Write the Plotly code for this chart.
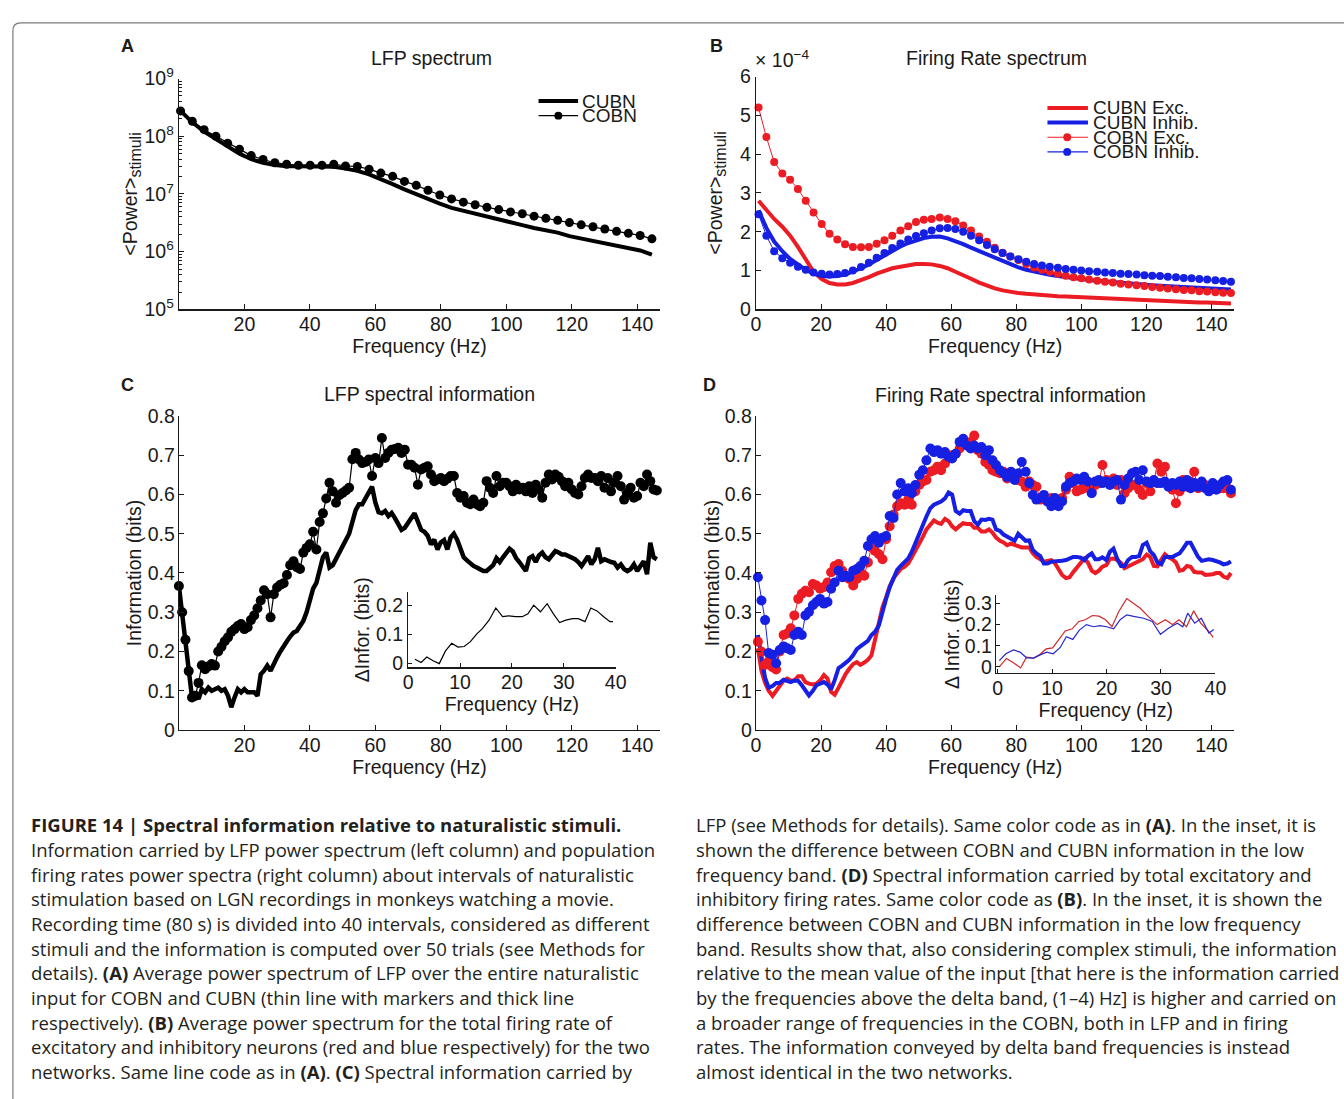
import plotly.graph_objects as go

W, H = 1344, 1099
FONT = "Liberation Sans, Arial, Helvetica, sans-serif"
CAP_FONT = "Open Sans, DejaVu Sans, sans-serif"
RED = "rgb(236,28,36)"
BLUE = "rgb(22,32,226)"
INK = "#1a1a1a"

# ------------------------------------------------------------------ data
# Panel A : LFP power spectrum (log scale)
FREQ_A = [0.5, 4.1, 7.7, 11.3, 14.9, 18.5, 22.1, 25.7, 29.3, 32.9,
          36.5, 40.1, 43.7, 47.3, 50.9, 54.5, 58.1, 61.7, 65.3, 68.9,
          72.5, 76.1, 79.7, 83.3, 86.9, 90.5, 94.1, 97.7, 101.3, 104.9,
          108.5, 112.1, 115.7, 119.3, 122.9, 126.5, 130.1, 133.7, 137.3, 140.9,
          144.5]
LFP_COBN = [2.75e8, 1.82e8, 1.30e8, 1.00e8, 7.55e7, 5.98e7, 4.62e7, 3.96e7, 3.48e7, 3.27e7,
            3.14e7, 3.14e7, 3.14e7, 3.27e7, 3.06e7, 2.99e7, 2.69e7, 2.30e7, 2.02e7, 1.65e7,
            1.41e7, 1.16e7, 9.57e6, 8.20e6, 7.21e6, 6.50e6, 5.86e6, 5.36e6, 4.89e6, 4.53e6,
            4.13e6, 3.78e6, 3.49e6, 3.19e6, 2.92e6, 2.70e6, 2.47e6, 2.25e6, 2.08e6, 1.91e6,
            1.67e6]
LFP_CUBN = [2.75e8, 1.74e8, 1.20e8, 8.9e7, 6.6e7, 5.0e7, 4.0e7, 3.47e7, 3.16e7, 3.02e7,
            3.02e7, 3.02e7, 3.02e7, 2.95e7, 2.75e7, 2.51e7, 2.19e7, 1.82e7, 1.48e7, 1.20e7,
            9.8e6, 8.1e6, 6.8e6, 5.75e6, 5.1e6, 4.47e6, 3.98e6, 3.55e6, 3.16e6, 2.88e6,
            2.57e6, 2.34e6, 2.14e6, 1.86e6, 1.70e6, 1.55e6, 1.41e6, 1.29e6, 1.17e6, 1.05e6,
            8.9e5]

# Panel B : firing-rate power spectrum (values in units of 1e-4)
FREQ_B = [0.8, 3.2, 5.6, 8.1, 10.5, 12.9, 15.3, 17.7, 20.2, 22.6,
          25.0, 27.4, 29.8, 32.3, 34.7, 37.1, 39.5, 41.9, 44.4, 46.8,
          49.2, 51.6, 54.0, 56.5, 58.9, 61.3, 63.7, 66.1, 68.6, 71.0,
          73.4, 75.8, 78.2, 80.7, 83.1, 85.5, 87.9, 90.3, 92.8, 95.2,
          97.6, 100.0, 102.4, 104.9, 107.3, 109.7, 112.1, 114.5, 117.0, 119.4,
          121.8, 124.2, 126.6, 129.1, 131.5, 133.9, 136.3, 138.7, 141.2, 143.6,
          146.0]
FR_CUBN_EXC = [2.80, 2.55, 2.33, 2.13, 1.90, 1.61, 1.27, 0.97, 0.78, 0.68,
               0.64, 0.64, 0.68, 0.75, 0.83, 0.92, 0.99, 1.06, 1.10, 1.14,
               1.17, 1.17, 1.16, 1.12, 1.06, 0.97, 0.89, 0.79, 0.69, 0.61,
               0.54, 0.49, 0.45, 0.42, 0.40, 0.38, 0.36, 0.35, 0.34, 0.33,
               0.32, 0.31, 0.30, 0.29, 0.28, 0.27, 0.26, 0.25, 0.245, 0.24,
               0.23, 0.22, 0.21, 0.20, 0.195, 0.19, 0.18, 0.175, 0.17, 0.16,
               0.15]
FR_CUBN_INH = [2.55, 2.10, 1.75, 1.50, 1.30, 1.15, 1.02, 0.92, 0.86, 0.85,
               0.86, 0.90, 0.97, 1.06, 1.16, 1.28, 1.40, 1.52, 1.62, 1.71,
               1.78, 1.84, 1.87, 1.88, 1.83, 1.76, 1.68, 1.59, 1.50, 1.41,
               1.32, 1.23, 1.15, 1.08, 1.02, 0.97, 0.93, 0.89, 0.86, 0.83,
               0.80, 0.78, 0.76, 0.74, 0.72, 0.70, 0.68, 0.67, 0.65, 0.64,
               0.62, 0.61, 0.60, 0.58, 0.57, 0.56, 0.55, 0.54, 0.53, 0.52,
               0.51]
FR_COBN_EXC = [5.20, 4.44, 3.80, 3.50, 3.34, 3.10, 2.80, 2.50, 2.20, 1.95,
               1.80, 1.68, 1.61, 1.60, 1.61, 1.69, 1.78, 1.90, 2.03, 2.14,
               2.25, 2.31, 2.33, 2.37, 2.33, 2.27, 2.16, 2.03, 1.88, 1.74,
               1.59, 1.46, 1.36, 1.27, 1.17, 1.08, 1.02, 0.97, 0.92, 0.87,
               0.83, 0.80, 0.77, 0.74, 0.71, 0.69, 0.66, 0.64, 0.62, 0.60,
               0.58, 0.56, 0.54, 0.52, 0.50, 0.49, 0.47, 0.46, 0.44, 0.43,
               0.42]
FR_COBN_INH = [2.45, 1.90, 1.50, 1.32, 1.20, 1.10, 1.02, 0.95, 0.92, 0.90,
               0.91, 0.94, 1.00, 1.09, 1.20, 1.33, 1.45, 1.58, 1.70, 1.80,
               1.89, 1.96, 2.03, 2.09, 2.10, 2.07, 2.00, 1.90, 1.78, 1.66,
               1.55, 1.45, 1.36, 1.29, 1.23, 1.17, 1.13, 1.10, 1.07, 1.04,
               1.02, 1.00, 0.98, 0.97, 0.95, 0.94, 0.92, 0.91, 0.90, 0.88,
               0.87, 0.86, 0.84, 0.83, 0.81, 0.80, 0.78, 0.77, 0.75, 0.73,
               0.71]

# Panel C : LFP spectral information (bits), 1 Hz bins 0..146
FREQ_C = list(range(0, 147))
INFO_C_COBN = [0.367, 0.300, 0.230, 0.150, 0.083, 0.087, 0.120, 0.165, 0.155, 0.162,
               0.168, 0.164, 0.200, 0.212, 0.226, 0.236, 0.250, 0.257, 0.265, 0.270,
               0.257, 0.262, 0.280, 0.292, 0.310, 0.330, 0.356, 0.346, 0.287, 0.346,
               0.363, 0.370, 0.374, 0.395, 0.420, 0.430, 0.415, 0.410, 0.452, 0.464,
               0.473, 0.505, 0.460, 0.530, 0.552, 0.590, 0.630, 0.608, 0.579, 0.598,
               0.604, 0.610, 0.617, 0.690, 0.706, 0.689, 0.680, 0.683, 0.689, 0.647,
               0.693, 0.680, 0.744, 0.693, 0.706, 0.714, 0.716, 0.719, 0.706, 0.714,
               0.676, 0.676, 0.668, 0.625, 0.664, 0.668, 0.672, 0.651, 0.634, 0.638,
               0.642, 0.634, 0.640, 0.647, 0.647, 0.604, 0.592, 0.596, 0.579, 0.575,
               0.587, 0.575, 0.570, 0.579, 0.634, 0.617, 0.604, 0.647, 0.621, 0.630,
               0.630, 0.621, 0.608, 0.625, 0.613, 0.617, 0.608, 0.621, 0.604, 0.625,
               0.612, 0.592, 0.630, 0.651, 0.638, 0.651, 0.645, 0.634, 0.621, 0.630,
               0.613, 0.604, 0.600, 0.621, 0.642, 0.651, 0.642, 0.642, 0.634, 0.647,
               0.617, 0.642, 0.608, 0.630, 0.647, 0.621, 0.587, 0.604, 0.617, 0.592,
               0.596, 0.630, 0.621, 0.651, 0.634, 0.613, 0.610]
INFO_C_CUBN = [0.367, 0.300, 0.230, 0.150, 0.083, 0.096, 0.079, 0.104, 0.096, 0.108,
               0.100, 0.104, 0.108, 0.100, 0.104, 0.087, 0.058, 0.083, 0.104, 0.096,
               0.104, 0.096, 0.096, 0.096, 0.087, 0.142, 0.151, 0.164, 0.151, 0.170,
               0.185, 0.200, 0.215, 0.226, 0.238, 0.248, 0.252, 0.265, 0.278, 0.300,
               0.330, 0.360, 0.375, 0.410, 0.440, 0.452, 0.414, 0.420, 0.435, 0.450,
               0.470, 0.480, 0.500, 0.530, 0.560, 0.575, 0.575, 0.590, 0.605, 0.620,
               0.580, 0.555, 0.552, 0.558, 0.545, 0.553, 0.540, 0.525, 0.510, 0.515,
               0.530, 0.540, 0.552, 0.530, 0.510, 0.505, 0.495, 0.473, 0.485, 0.460,
               0.478, 0.484, 0.460, 0.490, 0.500, 0.485, 0.465, 0.440, 0.432, 0.424,
               0.418, 0.414, 0.408, 0.405, 0.405, 0.412, 0.420, 0.438, 0.428, 0.440,
               0.450, 0.462, 0.455, 0.438, 0.428, 0.415, 0.405, 0.438, 0.443, 0.428,
               0.445, 0.452, 0.440, 0.435, 0.447, 0.456, 0.452, 0.447, 0.447, 0.444,
               0.440, 0.435, 0.428, 0.418, 0.430, 0.443, 0.422, 0.435, 0.464, 0.430,
               0.435, 0.430, 0.428, 0.426, 0.414, 0.422, 0.410, 0.405, 0.410, 0.422,
               0.405, 0.418, 0.430, 0.397, 0.477, 0.440, 0.435]

# Inset of C : COBN - CUBN information, low frequencies
FREQ_IC = [1.3, 2.5, 3.6, 4.8, 6.0, 7.2, 8.4, 9.6, 10.8, 12.0,
           13.2, 14.3, 15.6, 16.9, 18.2, 19.4, 20.7, 22.0, 23.1, 24.2,
           25.5, 26.8, 28.0, 29.2, 30.4, 31.7, 32.8, 34.1, 35.2, 36.4,
           37.7, 38.9, 39.5]
DIFF_C = [0.013, 0.002, 0.021, 0.008, -0.002, 0.042, 0.068, 0.055, 0.057, 0.074,
          0.100, 0.119, 0.148, 0.190, 0.160, 0.163, 0.160, 0.160, 0.170, 0.200,
          0.177, 0.205, 0.170, 0.140, 0.148, 0.153, 0.153, 0.143, 0.190, 0.180,
          0.160, 0.143, 0.143]

# Panel D : firing-rate spectral information (bits)
FREQ_D = [0.6, 1.7, 2.8, 3.9, 5.1, 6.2, 7.3, 8.5, 9.6, 10.7,
          11.8, 13.0, 14.1, 15.2, 16.3, 17.5, 18.6, 19.7, 20.9, 22.0,
          23.1, 24.2, 25.4, 26.5, 27.6, 28.7, 29.9, 31.0, 32.1, 33.3,
          34.4, 35.5, 36.6, 37.8, 38.9, 40.0, 41.1, 42.3, 43.4, 44.5,
          45.7, 46.8, 47.9, 49.0, 50.2, 51.3, 52.4, 53.6, 54.7, 55.8,
          56.9, 58.1, 59.2, 60.3, 61.4, 62.6, 63.7, 64.8, 66.0, 67.1,
          68.2, 69.3, 70.5, 71.6, 72.7, 73.8, 75.0, 76.1, 77.2, 78.4,
          79.5, 80.6, 81.7, 82.9, 84.0, 85.1, 86.2, 87.4, 88.5, 89.6,
          90.8, 91.9, 93.0, 94.1, 95.3, 96.4, 97.5, 98.6, 99.8, 100.9,
          102.0, 103.2, 104.3, 105.4, 106.5, 107.7, 108.8, 109.9, 111.0, 112.2,
          113.3, 114.4, 115.6, 116.7, 117.8, 118.9, 120.1, 121.2, 122.3, 123.4,
          124.6, 125.7, 126.8, 128.0, 129.1, 130.2, 131.3, 132.5, 133.6, 134.7,
          135.9, 137.0, 138.1, 139.2, 140.4, 141.5, 142.6, 143.7, 144.9, 146.0]
INFO_D_CUBN_EXC = [0.208, 0.150, 0.120, 0.100, 0.087, 0.100, 0.116, 0.126, 0.131, 0.126,
                   0.126, 0.137, 0.137, 0.122, 0.118, 0.116, 0.118, 0.126, 0.140, 0.131,
                   0.097, 0.090, 0.108, 0.126, 0.143, 0.156, 0.168, 0.173, 0.166, 0.172,
                   0.179, 0.190, 0.227, 0.276, 0.313, 0.338, 0.366, 0.387, 0.400, 0.410,
                   0.416, 0.424, 0.440, 0.456, 0.473, 0.492, 0.511, 0.525, 0.534, 0.528,
                   0.525, 0.538, 0.532, 0.519, 0.511, 0.520, 0.527, 0.525, 0.525, 0.515,
                   0.515, 0.506, 0.506, 0.511, 0.503, 0.490, 0.482, 0.478, 0.471, 0.475,
                   0.471, 0.469, 0.465, 0.465, 0.465, 0.450, 0.441, 0.435, 0.429, 0.431,
                   0.433, 0.425, 0.410, 0.395, 0.387, 0.389, 0.402, 0.414, 0.425, 0.437,
                   0.427, 0.406, 0.400, 0.406, 0.416, 0.420, 0.436, 0.437, 0.433, 0.426,
                   0.412, 0.416, 0.423, 0.425, 0.429, 0.435, 0.447, 0.441, 0.418, 0.417,
                   0.434, 0.448, 0.440, 0.435, 0.427, 0.406, 0.408, 0.418, 0.416, 0.403,
                   0.401, 0.401, 0.395, 0.395, 0.397, 0.400, 0.400, 0.391, 0.387, 0.400]
INFO_D_CUBN_INH = [0.242, 0.192, 0.133, 0.108, 0.112, 0.120, 0.120, 0.128, 0.126, 0.122,
                   0.126, 0.125, 0.114, 0.102, 0.088, 0.100, 0.114, 0.118, 0.122, 0.116,
                   0.104, 0.127, 0.158, 0.164, 0.170, 0.179, 0.191, 0.206, 0.213, 0.221,
                   0.227, 0.242, 0.250, 0.267, 0.305, 0.334, 0.363, 0.389, 0.408, 0.418,
                   0.427, 0.437, 0.454, 0.477, 0.500, 0.521, 0.544, 0.565, 0.574, 0.578,
                   0.582, 0.590, 0.605, 0.600, 0.558, 0.551, 0.560, 0.558, 0.558, 0.532,
                   0.523, 0.536, 0.535, 0.538, 0.536, 0.511, 0.507, 0.498, 0.492, 0.485,
                   0.482, 0.500, 0.490, 0.482, 0.483, 0.459, 0.450, 0.443, 0.424, 0.424,
                   0.429, 0.429, 0.429, 0.431, 0.433, 0.437, 0.441, 0.441, 0.439, 0.433,
                   0.443, 0.450, 0.435, 0.435, 0.440, 0.433, 0.454, 0.462, 0.437, 0.418,
                   0.418, 0.433, 0.441, 0.441, 0.443, 0.471, 0.477, 0.455, 0.446, 0.427,
                   0.422, 0.441, 0.441, 0.441, 0.446, 0.450, 0.462, 0.477, 0.477, 0.458,
                   0.441, 0.431, 0.433, 0.435, 0.433, 0.431, 0.427, 0.422, 0.424, 0.429]
INFO_D_COBN_EXC = [0.225, 0.200, 0.166, 0.175, 0.160, 0.154, 0.200, 0.242, 0.246, 0.259,
                   0.292, 0.334, 0.347, 0.355, 0.351, 0.372, 0.368, 0.360, 0.364, 0.376,
                   0.402, 0.418, 0.423, 0.406, 0.389, 0.385, 0.368, 0.385, 0.402, 0.393,
                   0.427, 0.465, 0.456, 0.448, 0.435, 0.486, 0.519, 0.549, 0.570, 0.578,
                   0.574, 0.587, 0.574, 0.608, 0.624, 0.633, 0.637, 0.658, 0.662, 0.671,
                   0.662, 0.679, 0.692, 0.700, 0.704, 0.717, 0.734, 0.729, 0.734, 0.750,
                   0.713, 0.704, 0.683, 0.675, 0.662, 0.658, 0.654, 0.658, 0.641, 0.645,
                   0.641, 0.637, 0.633, 0.620, 0.633, 0.624, 0.620, 0.587, 0.591, 0.582,
                   0.591, 0.582, 0.582, 0.591, 0.612, 0.645, 0.629, 0.608, 0.612, 0.616,
                   0.624, 0.608, 0.624, 0.629, 0.675, 0.637, 0.629, 0.641, 0.624, 0.637,
                   0.603, 0.616, 0.624, 0.624, 0.612, 0.599, 0.629, 0.608, 0.633, 0.679,
                   0.658, 0.671, 0.624, 0.612, 0.578, 0.608, 0.637, 0.620, 0.633, 0.658,
                   0.616, 0.629, 0.624, 0.620, 0.624, 0.620, 0.616, 0.616, 0.616, 0.603]
INFO_D_COBN_INH = [0.389, 0.330, 0.280, 0.196, 0.192, 0.170, 0.204, 0.213, 0.208, 0.204,
                   0.242, 0.250, 0.242, 0.292, 0.301, 0.318, 0.326, 0.334, 0.322, 0.326,
                   0.360, 0.376, 0.406, 0.389, 0.393, 0.389, 0.406, 0.410, 0.418, 0.431,
                   0.469, 0.486, 0.494, 0.477, 0.490, 0.494, 0.545, 0.540, 0.600, 0.629,
                   0.608, 0.616, 0.603, 0.624, 0.650, 0.662, 0.687, 0.717, 0.708, 0.713,
                   0.704, 0.708, 0.696, 0.692, 0.704, 0.734, 0.742, 0.725, 0.717, 0.725,
                   0.717, 0.721, 0.700, 0.713, 0.687, 0.675, 0.662, 0.654, 0.645, 0.658,
                   0.637, 0.654, 0.683, 0.658, 0.629, 0.599, 0.587, 0.591, 0.599, 0.582,
                   0.570, 0.591, 0.570, 0.582, 0.620, 0.629, 0.633, 0.641, 0.637, 0.645,
                   0.633, 0.603, 0.633, 0.637, 0.629, 0.633, 0.624, 0.633, 0.637, 0.587,
                   0.624, 0.641, 0.654, 0.658, 0.637, 0.662, 0.633, 0.629, 0.637, 0.629,
                   0.629, 0.633, 0.620, 0.629, 0.624, 0.633, 0.620, 0.637, 0.616, 0.629,
                   0.620, 0.633, 0.616, 0.608, 0.629, 0.612, 0.624, 0.633, 0.637, 0.612]

# Inset of D : COBN - CUBN information (Exc red, Inhib blue)
FREQ_ID_EXC = [0.3, 1.6, 2.9, 4.2, 5.3, 6.6, 7.8, 8.9, 10.1, 11.2,
               12.4, 13.7, 14.9, 16.1, 17.4, 18.6, 19.8, 21.0, 22.2, 23.7,
               25.0, 26.2, 27.7, 29.3, 30.8, 32.1, 33.3, 34.7, 36.0, 37.3,
               38.7, 39.6]
DIFF_D_EXC = [0.000, 0.040, 0.020, -0.005, 0.046, 0.042, 0.060, 0.085, 0.090, 0.130,
              0.170, 0.180, 0.215, 0.223, 0.243, 0.240, 0.223, 0.190, 0.260, 0.323,
              0.300, 0.277, 0.238, 0.200, 0.223, 0.200, 0.223, 0.190, 0.265, 0.207,
              0.170, 0.140]
FREQ_ID_INH = [0.3, 1.5, 2.9, 4.1, 5.3, 6.6, 7.8, 9.0, 10.2, 11.5,
               12.6, 13.8, 15.0, 16.3, 17.6, 18.8, 20.0, 21.3, 22.5, 23.7,
               25.2, 26.8, 28.4, 29.9, 31.5, 33.0, 34.0, 34.9, 36.2, 37.4,
               38.8, 39.7]
DIFF_D_INH = [0.030, 0.062, 0.080, 0.070, 0.043, 0.042, 0.057, 0.070, 0.062, 0.092,
              0.143, 0.130, 0.174, 0.200, 0.190, 0.195, 0.190, 0.180, 0.223, 0.246,
              0.238, 0.230, 0.215, 0.154, 0.185, 0.207, 0.190, 0.254, 0.207, 0.230,
              0.160, 0.177]

X_TICKS_MAIN = [20, 40, 60, 80, 100, 120, 140]
X_TICKS_ZERO = [0, 20, 40, 60, 80, 100, 120, 140]
INFO_TICKS = [0, 0.1, 0.2, 0.3, 0.4, 0.5, 0.6, 0.7, 0.8]
INFO_TICKTEXT = ["0", "0.1", "0.2", "0.3", "0.4", "0.5", "0.6", "0.7", "0.8"]
POWER_TICKS = [1e5, 1e6, 1e7, 1e8, 1e9]
POWER_TICKTEXT = ["10<sup>5</sup>", "10<sup>6</sup>", "10<sup>7</sup>", "10<sup>8</sup>", "10<sup>9</sup>"]
POWER_MINOR = [k * 10 ** e for e in range(5, 9) for k in range(2, 10)]
FR_TICKS = [0, 1, 2, 3, 4, 5, 6]

# ------------------------------------------------------------------ helpers
def X(px):
    return px / W


def Y(py):
    return 1 - py / H


def dom_x(a, b):
    return [X(a), X(b)]


def dom_y(top, bottom):
    return [Y(bottom), Y(top)]


TF = dict(family=FONT, size=19.5, color=INK)


def ax(**kw):
    base = dict(showline=True, linecolor=INK, linewidth=1.2, ticks="inside", ticklen=5,
                tickwidth=1, tickcolor=INK, showgrid=False, zeroline=False,
                tickfont=TF, fixedrange=True)
    base.update(kw)
    return base


fig = go.Figure()


def line(xs, ys, xa, ya, color, width, name):
    fig.add_trace(go.Scatter(x=xs, y=ys, xaxis=xa, yaxis=ya, mode="lines", name=name,
                             line=dict(color=color, width=width), cliponaxis=False,
                             showlegend=False))


def beads(xs, ys, xa, ya, color, size, width, name):
    fig.add_trace(go.Scatter(x=xs, y=ys, xaxis=xa, yaxis=ya, mode="lines+markers", name=name,
                             line=dict(color=color, width=width),
                             marker=dict(color=color, size=size, line=dict(width=0)),
                             cliponaxis=False, showlegend=False))


# A
line(FREQ_A, LFP_CUBN, "x", "y", "black", 4, "CUBN")
beads(FREQ_A, LFP_COBN, "x", "y", "black", 9, 1.2, "COBN")
# B
line(FREQ_B, FR_CUBN_EXC, "x2", "y2", RED, 4, "CUBN Exc.")
line(FREQ_B, FR_CUBN_INH, "x2", "y2", BLUE, 4, "CUBN Inhib.")
beads(FREQ_B, FR_COBN_EXC, "x2", "y2", RED, 8, 1, "COBN Exc.")
beads(FREQ_B, FR_COBN_INH, "x2", "y2", BLUE, 8, 1, "COBN Inhib.")
# C
line(FREQ_C, INFO_C_CUBN, "x3", "y3", "black", 4.5, "CUBN")
beads(FREQ_C, INFO_C_COBN, "x3", "y3", "black", 10, 1.2, "COBN")
# D
line(FREQ_D, INFO_D_CUBN_EXC, "x4", "y4", RED, 4, "CUBN Exc.")
line(FREQ_D, INFO_D_CUBN_INH, "x4", "y4", BLUE, 4, "CUBN Inhib.")
beads(FREQ_D, INFO_D_COBN_EXC, "x4", "y4", RED, 10, 1, "COBN Exc.")
beads(FREQ_D, INFO_D_COBN_INH, "x4", "y4", BLUE, 10, 1, "COBN Inhib.")
# insets
line(FREQ_IC, DIFF_C, "x5", "y5", "black", 1.2, "COBN-CUBN")
line(FREQ_ID_EXC, DIFF_D_EXC, "x6", "y6", "rgb(205,40,40)", 1.2, "Exc. COBN-CUBN")
line(FREQ_ID_INH, DIFF_D_INH, "x6", "y6", "rgb(40,40,205)", 1.2, "Inhib. COBN-CUBN")

POW_TITLE = "&lt;Power&gt;<sub><span style='font-size:16px'>stimuli</span></sub>"
AX_L = (176, 663)     # left column axes, px
AX_R = (760, 1244)    # right column axes, px

layout = dict(
    width=W, height=H, margin=dict(l=0, r=0, t=0, b=0),
    paper_bgcolor="white", plot_bgcolor="rgba(0,0,0,0)", showlegend=False,
    font=dict(family=FONT, color=INK),
    # A
    xaxis=ax(domain=dom_x(*AX_L), range=[0, 147], tickvals=X_TICKS_MAIN, anchor="y",
             ticklabelstandoff=-3, title=dict(text="Frequency (Hz)", font=TF, standoff=4)),
    yaxis=ax(domain=dom_y(67, 303), type="log", range=[5, 9], tickvals=POWER_TICKS,
             ticktext=POWER_TICKTEXT, anchor="x",
             minor=dict(ticks="inside", ticklen=3, tickcolor=INK, tickvals=POWER_MINOR),
             title=dict(text=POW_TITLE, font=TF, standoff=0)),
    # B
    xaxis2=ax(domain=dom_x(*AX_R), range=[0, 147], tickvals=X_TICKS_ZERO, anchor="y2",
              ticklabelstandoff=-3, title=dict(text="Frequency (Hz)", font=TF, standoff=4)),
    yaxis2=ax(domain=dom_y(65, 303), range=[0, 6], tickvals=FR_TICKS, anchor="x2",
              title=dict(text=POW_TITLE, font=TF, standoff=12)),
    # C
    xaxis3=ax(domain=dom_x(*AX_L), range=[0, 147], tickvals=X_TICKS_MAIN, anchor="y3",
              ticklabelstandoff=-3, title=dict(text="Frequency (Hz)", font=TF, standoff=5)),
    yaxis3=ax(domain=dom_y(412, 733), range=[0, 0.8], tickvals=INFO_TICKS,
              ticktext=INFO_TICKTEXT, anchor="x3", ticklabelstandoff=-1,
              title=dict(text="Information (bits)", font=TF, standoff=0)),
    # D
    xaxis4=ax(domain=dom_x(*AX_R), range=[0, 147], tickvals=X_TICKS_ZERO, anchor="y4",
              ticklabelstandoff=-3, title=dict(text="Frequency (Hz)", font=TF, standoff=5)),
    yaxis4=ax(domain=dom_y(412, 733), range=[0, 0.8], tickvals=INFO_TICKS,
              ticktext=INFO_TICKTEXT, anchor="x4", ticklabelstandoff=-1,
              title=dict(text="Information (bits)", font=TF, standoff=0)),
    # inset C
    xaxis5=ax(domain=dom_x(408, 618), range=[0, 40], tickvals=[0, 10, 20, 30, 40], anchor="y5",
              ticklen=4, ticklabelstandoff=-3,
              title=dict(text="Frequency (Hz)", font=TF, standoff=0)),
    yaxis5=ax(domain=dom_y(592, 669), range=[-0.015, 0.245], tickvals=[0, 0.1, 0.2],
              ticktext=["0", "0.1", "0.2"], anchor="x5", ticklen=4,
              title=dict(text="ΔInfor. (bits)", font=TF, standoff=1)),
    # inset D
    xaxis6=ax(domain=dom_x(1003, 1225), range=[-0.3, 40], tickvals=[0, 10, 20, 30, 40], anchor="y6",
              ticklen=4, ticklabelstandoff=-3,
              title=dict(text="Frequency (Hz)", font=TF, standoff=0)),
    yaxis6=ax(domain=dom_y(595, 675), range=[-0.03, 0.34], tickvals=[0, 0.1, 0.2, 0.3],
              ticktext=["0", "0.1", "0.2", "0.3"], anchor="x6", ticklen=4, ticklabelstandoff=-1,
              title=dict(text="Δ Infor. (bits)", font=TF, standoff=0)),
)

annotations = []
shapes = []


def text(x, y, s, size=19.5, xanchor="center", bold=False, color=INK, family=FONT):
    if bold:
        s = "<b>" + s + "</b>"
    annotations.append(dict(x=X(x), y=Y(y), xref="paper", yref="paper", text=s,
                            showarrow=False, xanchor=xanchor, yanchor="middle",
                            font=dict(family=family, size=size, color=color)))


def hline(x0, x1, y, color, width):
    shapes.append(dict(type="line", xref="paper", yref="paper", x0=X(x0), x1=X(x1),
                       y0=Y(y), y1=Y(y), line=dict(color=color, width=width)))


def dot(cx, cy, r, color):
    shapes.append(dict(type="circle", xref="paper", yref="paper", x0=X(cx - r), x1=X(cx + r),
                       y0=Y(cy + r), y1=Y(cy - r), fillcolor=color, line=dict(width=0)))


# panel letters and titles
text(124, 34, "A", size=18, bold=True)
text(720, 34, "B", size=18, bold=True)
text(124, 380, "C", size=18, bold=True)
text(713, 380, "D", size=18, bold=True)
text(432, 46, "LFP spectrum")
text(1003, 46, "Firing Rate spectrum")
text(430, 390, "LFP spectral information")
text(1018, 391, "Firing Rate spectral information")
text(757, 47, "× 10<sup>−4</sup>", xanchor="left")

# legend A
hline(540, 580, 90, "black", 4)
text(582, 90, "CUBN", size=19, xanchor="left")
hline(540, 580, 105, "black", 1.2)
dot(560, 105, 4, "black")
text(582, 105, "COBN", size=19, xanchor="left")

# legend B
LEG_B = [("CUBN Exc.", RED, True), ("CUBN Inhib.", BLUE, True),
         ("COBN Exc.", RED, False), ("COBN Inhib.", BLUE, False)]
for i, (lab, col, thick) in enumerate(LEG_B):
    yy = 97 + i * 15
    hline(1055, 1096, yy, col, 4 if thick else 1.2)
    if not thick:
        dot(1075, yy, 4, col)
    text(1099, yy, lab, size=19, xanchor="left")

# border (top / left visible)
shapes.append(dict(type="path", xref="paper", yref="paper",
                   path=f"M {X(8)},{Y(1200)} L {X(8)},{Y(18)} Q {X(8)},{Y(10)} {X(16)},{Y(10)} L {X(1400)},{Y(10)}",
                   line=dict(color="#7a7a7a", width=1.2)))

# caption
CAP_LEFT = [
    "<b>FIGURE 14 | Spectral information relative to naturalistic stimuli.</b>",
    "Information carried by LFP power spectrum (left column) and population",
    "firing rates power spectra (right column) about intervals of naturalistic",
    "stimulation based on LGN recordings in monkeys watching a movie.",
    "Recording time (80 s) is divided into 40 intervals, considered as different",
    "stimuli and the information is computed over 50 trials (see Methods for",
    "details). <b>(A)</b> Average power spectrum of LFP over the entire naturalistic",
    "input for COBN and CUBN (thin line with markers and thick line",
    "respectively). <b>(B)</b> Average power spectrum for the total firing rate of",
    "excitatory and inhibitory neurons (red and blue respectively) for the two",
    "networks. Same line code as in <b>(A)</b>. <b>(C)</b> Spectral information carried by",
]
CAP_RIGHT = [
    "LFP (see Methods for details). Same color code as in <b>(A)</b>. In the inset, it is",
    "shown the difference between COBN and CUBN information in the low",
    "frequency band. <b>(D)</b> Spectral information carried by total excitatory and",
    "inhibitory firing rates. Same color code as <b>(B)</b>. In the inset, it is shown the",
    "difference between COBN and CUBN information in the low frequency",
    "band. Results show that, also considering complex stimuli, the information",
    "relative to the mean value of the input [that here is the information carried",
    "by the frequencies above the delta band, (1–4) Hz] is higher and carried on",
    "a broader range of frequencies in the COBN, both in LFP and in firing",
    "rates. The information conveyed by delta band frequencies is instead",
    "almost identical in the two networks.",
]
for i, s in enumerate(CAP_LEFT):
    text(24, 830 + i * 25.2, s, size=18.5, xanchor="left", color="#231f20", family=CAP_FONT)
for i, s in enumerate(CAP_RIGHT):
    text(697, 830 + i * 25.2, s, size=18.5, xanchor="left", color="#231f20", family=CAP_FONT)

layout["annotations"] = annotations
layout["shapes"] = shapes
fig.update_layout(**layout)
fig.write_html(
    "out.html",
    config={"displayModeBar": False, "staticPlot": True},
    post_script="document.body.style.margin='0px';"
                "document.body.style.overflow='hidden';"
                "document.documentElement.style.overflow='hidden';",
)
